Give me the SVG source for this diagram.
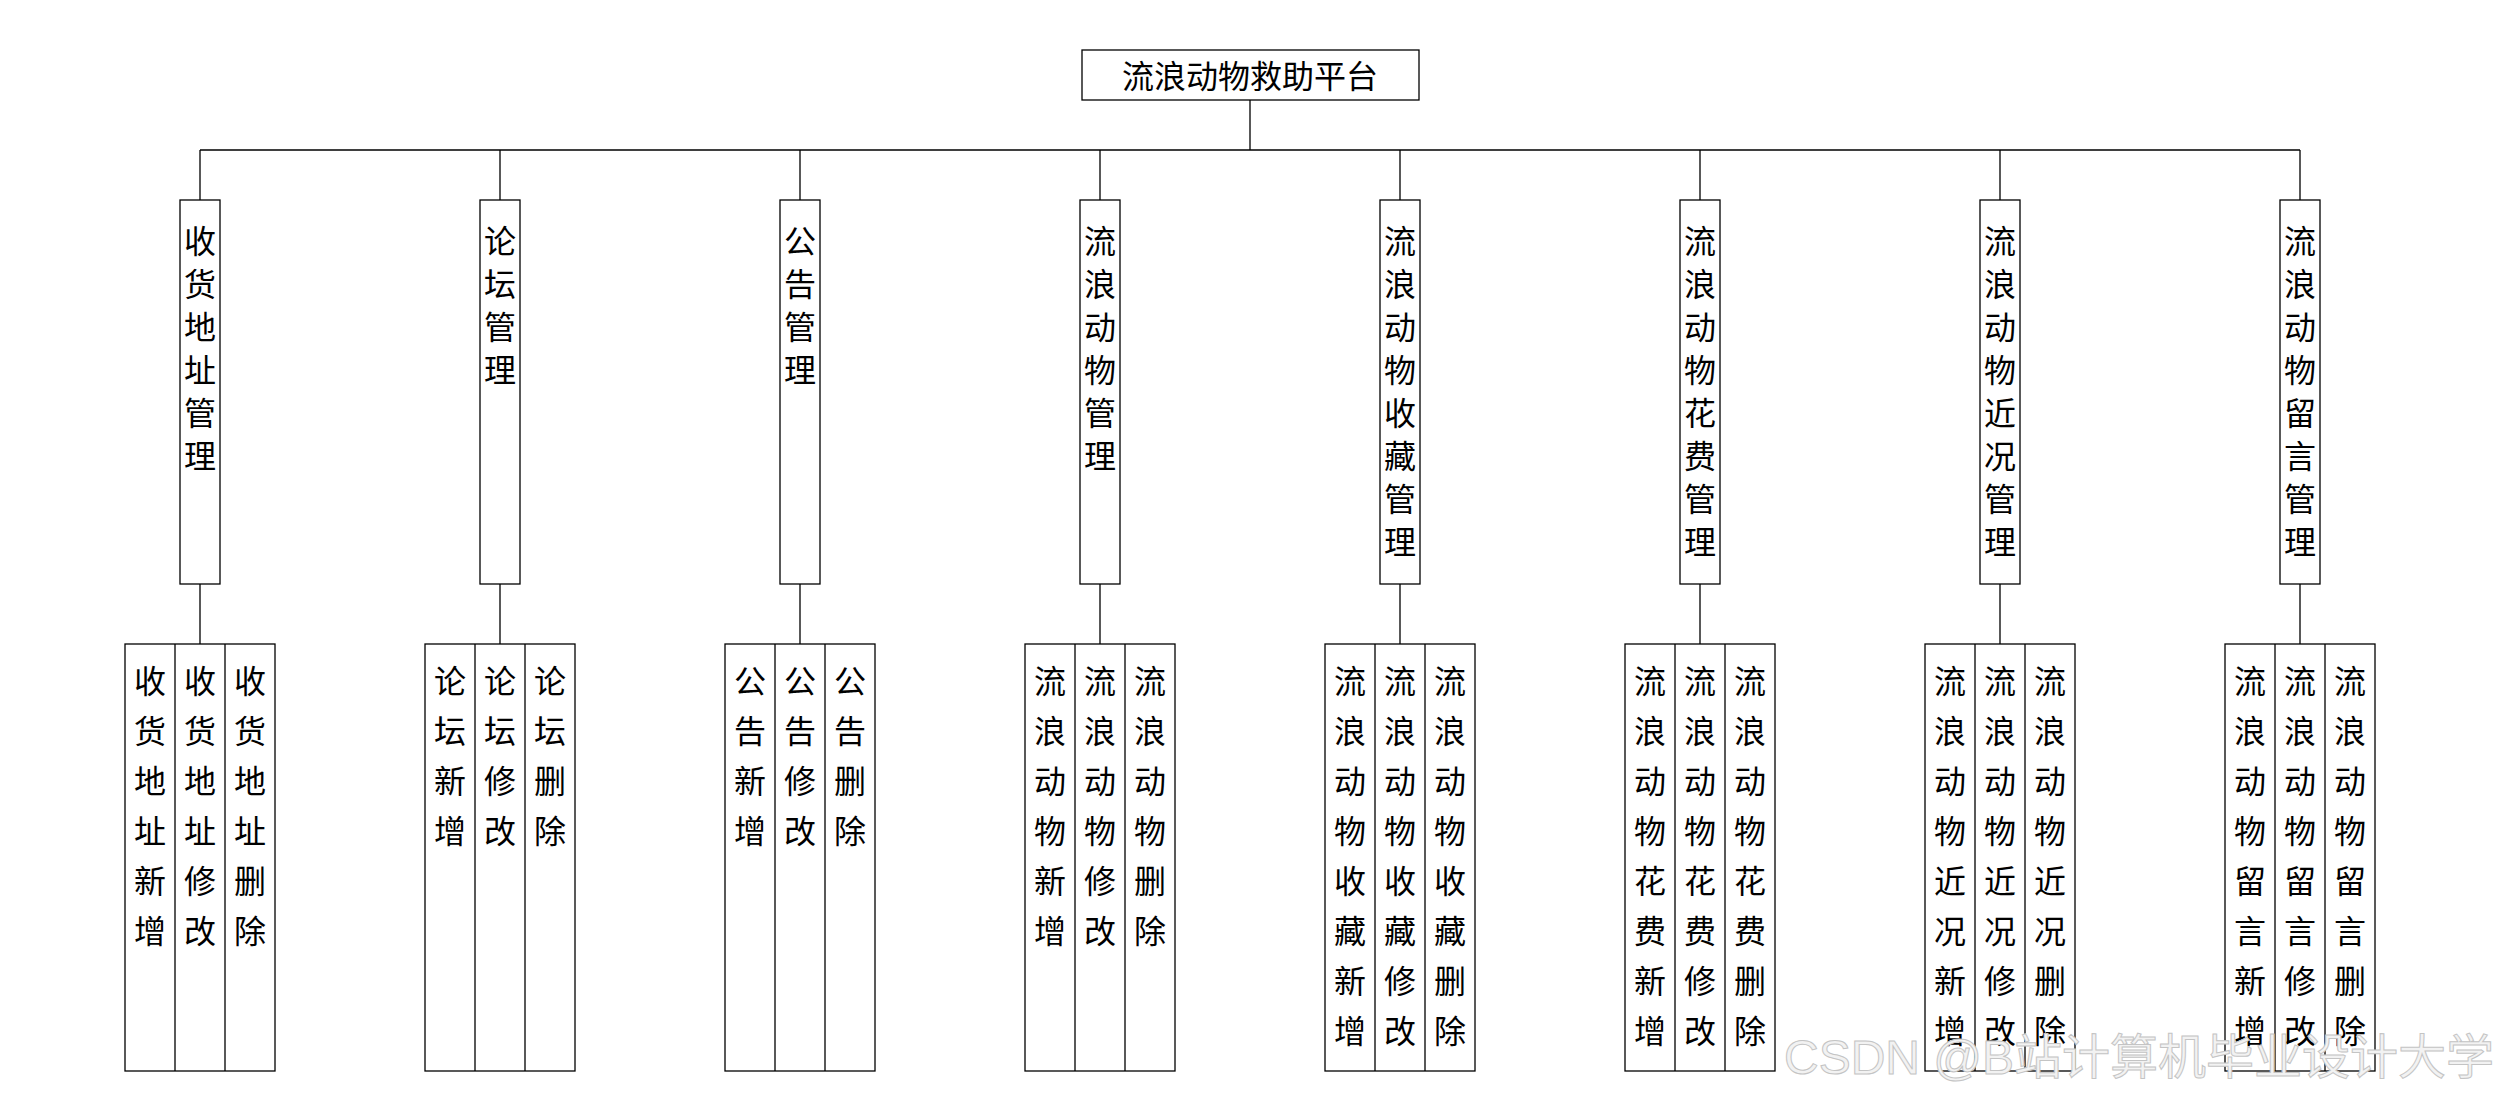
<svg xmlns="http://www.w3.org/2000/svg" width="2500" height="1100" viewBox="0 0 2500 1100">
<style>
.box{fill:#fff;stroke:#000;stroke-width:1.3}
.ln{fill:none;stroke:#000;stroke-width:1.3}
.t{font-family:"Noto Sans CJK SC","Noto Sans",sans-serif;font-size:32px;fill:#000;text-anchor:middle}
.wm{font-family:"Liberation Sans","Noto Sans CJK SC",sans-serif;font-size:48px;fill:#f2f2f2;stroke:#c4c4c4;stroke-width:1}
</style>
<rect width="2500" height="1100" fill="#fff"/>
<g id="connectors">
<path class="ln" d="M1250 100V150M200 150H2300"/>
<path class="ln" d="M200 150V200M500 150V200M800 150V200M1100 150V200M1400 150V200M1700 150V200M2000 150V200M2300 150V200"/>
<path class="ln" d="M200 584V644M500 584V644M800 584V644M1100 584V644M1400 584V644M1700 584V644M2000 584V644M2300 584V644"/>
</g>
<g id="root">
<rect class="box" x="1082" y="50" width="337" height="50"/>
<text class="t" x="1250" y="88">流浪动物救助平台</text>
</g>

<g id="m1">
<rect class="box" x="180" y="200" width="40" height="384"/>
<text class="t"><tspan x="200" y="253">收</tspan><tspan x="200" dy="43">货</tspan><tspan x="200" dy="43">地</tspan><tspan x="200" dy="43">址</tspan><tspan x="200" dy="43">管</tspan><tspan x="200" dy="43">理</tspan></text>
</g>
<g id="m1-leaves">
<rect class="box" x="125" y="644" width="150" height="427"/>
<path class="ln" d="M175 644V1071M225 644V1071"/>
<text class="t"><tspan x="150" y="693">收</tspan><tspan x="150" dy="50">货</tspan><tspan x="150" dy="50">地</tspan><tspan x="150" dy="50">址</tspan><tspan x="150" dy="50">新</tspan><tspan x="150" dy="50">增</tspan></text>
<text class="t"><tspan x="200" y="693">收</tspan><tspan x="200" dy="50">货</tspan><tspan x="200" dy="50">地</tspan><tspan x="200" dy="50">址</tspan><tspan x="200" dy="50">修</tspan><tspan x="200" dy="50">改</tspan></text>
<text class="t"><tspan x="250" y="693">收</tspan><tspan x="250" dy="50">货</tspan><tspan x="250" dy="50">地</tspan><tspan x="250" dy="50">址</tspan><tspan x="250" dy="50">删</tspan><tspan x="250" dy="50">除</tspan></text>
</g>

<g id="m2">
<rect class="box" x="480" y="200" width="40" height="384"/>
<text class="t"><tspan x="500" y="253">论</tspan><tspan x="500" dy="43">坛</tspan><tspan x="500" dy="43">管</tspan><tspan x="500" dy="43">理</tspan></text>
</g>
<g id="m2-leaves">
<rect class="box" x="425" y="644" width="150" height="427"/>
<path class="ln" d="M475 644V1071M525 644V1071"/>
<text class="t"><tspan x="450" y="693">论</tspan><tspan x="450" dy="50">坛</tspan><tspan x="450" dy="50">新</tspan><tspan x="450" dy="50">增</tspan></text>
<text class="t"><tspan x="500" y="693">论</tspan><tspan x="500" dy="50">坛</tspan><tspan x="500" dy="50">修</tspan><tspan x="500" dy="50">改</tspan></text>
<text class="t"><tspan x="550" y="693">论</tspan><tspan x="550" dy="50">坛</tspan><tspan x="550" dy="50">删</tspan><tspan x="550" dy="50">除</tspan></text>
</g>

<g id="m3">
<rect class="box" x="780" y="200" width="40" height="384"/>
<text class="t"><tspan x="800" y="253">公</tspan><tspan x="800" dy="43">告</tspan><tspan x="800" dy="43">管</tspan><tspan x="800" dy="43">理</tspan></text>
</g>
<g id="m3-leaves">
<rect class="box" x="725" y="644" width="150" height="427"/>
<path class="ln" d="M775 644V1071M825 644V1071"/>
<text class="t"><tspan x="750" y="693">公</tspan><tspan x="750" dy="50">告</tspan><tspan x="750" dy="50">新</tspan><tspan x="750" dy="50">增</tspan></text>
<text class="t"><tspan x="800" y="693">公</tspan><tspan x="800" dy="50">告</tspan><tspan x="800" dy="50">修</tspan><tspan x="800" dy="50">改</tspan></text>
<text class="t"><tspan x="850" y="693">公</tspan><tspan x="850" dy="50">告</tspan><tspan x="850" dy="50">删</tspan><tspan x="850" dy="50">除</tspan></text>
</g>

<g id="m4">
<rect class="box" x="1080" y="200" width="40" height="384"/>
<text class="t"><tspan x="1100" y="253">流</tspan><tspan x="1100" dy="43">浪</tspan><tspan x="1100" dy="43">动</tspan><tspan x="1100" dy="43">物</tspan><tspan x="1100" dy="43">管</tspan><tspan x="1100" dy="43">理</tspan></text>
</g>
<g id="m4-leaves">
<rect class="box" x="1025" y="644" width="150" height="427"/>
<path class="ln" d="M1075 644V1071M1125 644V1071"/>
<text class="t"><tspan x="1050" y="693">流</tspan><tspan x="1050" dy="50">浪</tspan><tspan x="1050" dy="50">动</tspan><tspan x="1050" dy="50">物</tspan><tspan x="1050" dy="50">新</tspan><tspan x="1050" dy="50">增</tspan></text>
<text class="t"><tspan x="1100" y="693">流</tspan><tspan x="1100" dy="50">浪</tspan><tspan x="1100" dy="50">动</tspan><tspan x="1100" dy="50">物</tspan><tspan x="1100" dy="50">修</tspan><tspan x="1100" dy="50">改</tspan></text>
<text class="t"><tspan x="1150" y="693">流</tspan><tspan x="1150" dy="50">浪</tspan><tspan x="1150" dy="50">动</tspan><tspan x="1150" dy="50">物</tspan><tspan x="1150" dy="50">删</tspan><tspan x="1150" dy="50">除</tspan></text>
</g>

<g id="m5">
<rect class="box" x="1380" y="200" width="40" height="384"/>
<text class="t"><tspan x="1400" y="253">流</tspan><tspan x="1400" dy="43">浪</tspan><tspan x="1400" dy="43">动</tspan><tspan x="1400" dy="43">物</tspan><tspan x="1400" dy="43">收</tspan><tspan x="1400" dy="43">藏</tspan><tspan x="1400" dy="43">管</tspan><tspan x="1400" dy="43">理</tspan></text>
</g>
<g id="m5-leaves">
<rect class="box" x="1325" y="644" width="150" height="427"/>
<path class="ln" d="M1375 644V1071M1425 644V1071"/>
<text class="t"><tspan x="1350" y="693">流</tspan><tspan x="1350" dy="50">浪</tspan><tspan x="1350" dy="50">动</tspan><tspan x="1350" dy="50">物</tspan><tspan x="1350" dy="50">收</tspan><tspan x="1350" dy="50">藏</tspan><tspan x="1350" dy="50">新</tspan><tspan x="1350" dy="50">增</tspan></text>
<text class="t"><tspan x="1400" y="693">流</tspan><tspan x="1400" dy="50">浪</tspan><tspan x="1400" dy="50">动</tspan><tspan x="1400" dy="50">物</tspan><tspan x="1400" dy="50">收</tspan><tspan x="1400" dy="50">藏</tspan><tspan x="1400" dy="50">修</tspan><tspan x="1400" dy="50">改</tspan></text>
<text class="t"><tspan x="1450" y="693">流</tspan><tspan x="1450" dy="50">浪</tspan><tspan x="1450" dy="50">动</tspan><tspan x="1450" dy="50">物</tspan><tspan x="1450" dy="50">收</tspan><tspan x="1450" dy="50">藏</tspan><tspan x="1450" dy="50">删</tspan><tspan x="1450" dy="50">除</tspan></text>
</g>

<g id="m6">
<rect class="box" x="1680" y="200" width="40" height="384"/>
<text class="t"><tspan x="1700" y="253">流</tspan><tspan x="1700" dy="43">浪</tspan><tspan x="1700" dy="43">动</tspan><tspan x="1700" dy="43">物</tspan><tspan x="1700" dy="43">花</tspan><tspan x="1700" dy="43">费</tspan><tspan x="1700" dy="43">管</tspan><tspan x="1700" dy="43">理</tspan></text>
</g>
<g id="m6-leaves">
<rect class="box" x="1625" y="644" width="150" height="427"/>
<path class="ln" d="M1675 644V1071M1725 644V1071"/>
<text class="t"><tspan x="1650" y="693">流</tspan><tspan x="1650" dy="50">浪</tspan><tspan x="1650" dy="50">动</tspan><tspan x="1650" dy="50">物</tspan><tspan x="1650" dy="50">花</tspan><tspan x="1650" dy="50">费</tspan><tspan x="1650" dy="50">新</tspan><tspan x="1650" dy="50">增</tspan></text>
<text class="t"><tspan x="1700" y="693">流</tspan><tspan x="1700" dy="50">浪</tspan><tspan x="1700" dy="50">动</tspan><tspan x="1700" dy="50">物</tspan><tspan x="1700" dy="50">花</tspan><tspan x="1700" dy="50">费</tspan><tspan x="1700" dy="50">修</tspan><tspan x="1700" dy="50">改</tspan></text>
<text class="t"><tspan x="1750" y="693">流</tspan><tspan x="1750" dy="50">浪</tspan><tspan x="1750" dy="50">动</tspan><tspan x="1750" dy="50">物</tspan><tspan x="1750" dy="50">花</tspan><tspan x="1750" dy="50">费</tspan><tspan x="1750" dy="50">删</tspan><tspan x="1750" dy="50">除</tspan></text>
</g>

<g id="m7">
<rect class="box" x="1980" y="200" width="40" height="384"/>
<text class="t"><tspan x="2000" y="253">流</tspan><tspan x="2000" dy="43">浪</tspan><tspan x="2000" dy="43">动</tspan><tspan x="2000" dy="43">物</tspan><tspan x="2000" dy="43">近</tspan><tspan x="2000" dy="43">况</tspan><tspan x="2000" dy="43">管</tspan><tspan x="2000" dy="43">理</tspan></text>
</g>
<g id="m7-leaves">
<rect class="box" x="1925" y="644" width="150" height="427"/>
<path class="ln" d="M1975 644V1071M2025 644V1071"/>
<text class="t"><tspan x="1950" y="693">流</tspan><tspan x="1950" dy="50">浪</tspan><tspan x="1950" dy="50">动</tspan><tspan x="1950" dy="50">物</tspan><tspan x="1950" dy="50">近</tspan><tspan x="1950" dy="50">况</tspan><tspan x="1950" dy="50">新</tspan><tspan x="1950" dy="50">增</tspan></text>
<text class="t"><tspan x="2000" y="693">流</tspan><tspan x="2000" dy="50">浪</tspan><tspan x="2000" dy="50">动</tspan><tspan x="2000" dy="50">物</tspan><tspan x="2000" dy="50">近</tspan><tspan x="2000" dy="50">况</tspan><tspan x="2000" dy="50">修</tspan><tspan x="2000" dy="50">改</tspan></text>
<text class="t"><tspan x="2050" y="693">流</tspan><tspan x="2050" dy="50">浪</tspan><tspan x="2050" dy="50">动</tspan><tspan x="2050" dy="50">物</tspan><tspan x="2050" dy="50">近</tspan><tspan x="2050" dy="50">况</tspan><tspan x="2050" dy="50">删</tspan><tspan x="2050" dy="50">除</tspan></text>
</g>

<g id="m8">
<rect class="box" x="2280" y="200" width="40" height="384"/>
<text class="t"><tspan x="2300" y="253">流</tspan><tspan x="2300" dy="43">浪</tspan><tspan x="2300" dy="43">动</tspan><tspan x="2300" dy="43">物</tspan><tspan x="2300" dy="43">留</tspan><tspan x="2300" dy="43">言</tspan><tspan x="2300" dy="43">管</tspan><tspan x="2300" dy="43">理</tspan></text>
</g>
<g id="m8-leaves">
<rect class="box" x="2225" y="644" width="150" height="427"/>
<path class="ln" d="M2275 644V1071M2325 644V1071"/>
<text class="t"><tspan x="2250" y="693">流</tspan><tspan x="2250" dy="50">浪</tspan><tspan x="2250" dy="50">动</tspan><tspan x="2250" dy="50">物</tspan><tspan x="2250" dy="50">留</tspan><tspan x="2250" dy="50">言</tspan><tspan x="2250" dy="50">新</tspan><tspan x="2250" dy="50">增</tspan></text>
<text class="t"><tspan x="2300" y="693">流</tspan><tspan x="2300" dy="50">浪</tspan><tspan x="2300" dy="50">动</tspan><tspan x="2300" dy="50">物</tspan><tspan x="2300" dy="50">留</tspan><tspan x="2300" dy="50">言</tspan><tspan x="2300" dy="50">修</tspan><tspan x="2300" dy="50">改</tspan></text>
<text class="t"><tspan x="2350" y="693">流</tspan><tspan x="2350" dy="50">浪</tspan><tspan x="2350" dy="50">动</tspan><tspan x="2350" dy="50">物</tspan><tspan x="2350" dy="50">留</tspan><tspan x="2350" dy="50">言</tspan><tspan x="2350" dy="50">删</tspan><tspan x="2350" dy="50">除</tspan></text>
</g>

<text class="wm" x="1784" y="1074">CSDN @B站计算机毕业设计大学</text>
</svg>
